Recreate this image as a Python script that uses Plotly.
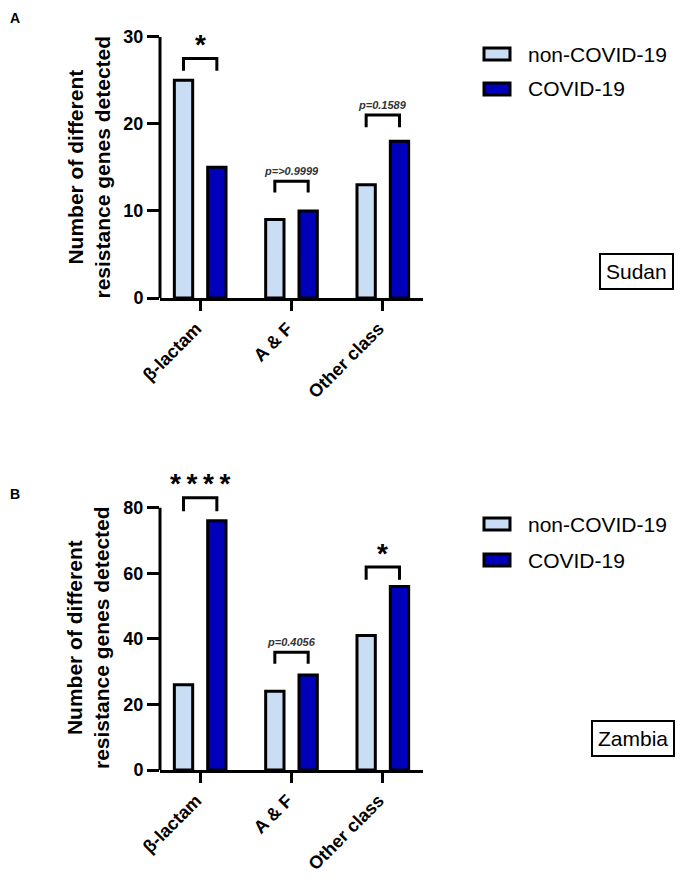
import plotly.graph_objects as go

# ---------------- data ----------------
categories = ["β-lactam", "A & F", "Other class"]
series_names = ["non-COVID-19", "COVID-19"]

sudan_non = [25, 9, 13]
sudan_covid = [15, 10, 18]
zambia_non = [26, 24, 41]
zambia_covid = [76, 29, 56]

sudan_sig = ["*", "p=>0.9999", "p=0.1589"]
sudan_bracket_base = [26.1, 12.1, 19.6]
sudan_bracket_top = [27.5, 13.4, 21.0]

zambia_sig = ["****", "p=0.4056", "*"]
zambia_bracket_base = [78.9, 32.4, 58.0]
zambia_bracket_top = [83.0, 35.9, 61.9]

sudan_yticks = [0, 10, 20, 30]
zambia_yticks = [0, 20, 40, 60, 80]

# ---------------- style ----------------
PAGE_W, PAGE_H = 685, 882
OFF = 8  # default body margin of the html page
W, H = PAGE_W - 2 * OFF, PAGE_H - 2 * OFF
FONT = "Liberation Sans, Arial, Helvetica, sans-serif"
LIGHT = "#C9DDF5"
DARK = "#0000BB"
colors = [LIGHT, DARK]
BARGAP = 0.27
BARGROUPGAP = 0.45
half_slot = (1 - BARGAP) / 4  # offset of bar centre from category centre


def fx(p):
    return (p - OFF) / W


def fy(p):
    return 1 - (p - OFF) / H


panels = [
    dict(name="A", country="Sudan", xa="x", ya="y", values=[sudan_non, sudan_covid],
         yticks=sudan_yticks, yrange=[0, 30], ypx=(298, 36.7),
         sig=sudan_sig, base=sudan_bracket_base, top=sudan_bracket_top,
         label_px=(15, 18), title_cy=167.5, legend_px=(54, 89),
         box=(636.5, 271.5)),
    dict(name="B", country="Zambia", xa="x2", ya="y2", values=[zambia_non, zambia_covid],
         yticks=zambia_yticks, yrange=[0, 92], ypx=(770, 770 - 92 * (262.3 / 80)),
         sig=zambia_sig, base=zambia_bracket_base, top=zambia_bracket_top,
         label_px=(15, 494), title_cy=638, legend_px=(524, 560),
         box=(633, 738.5)),
]

fig = go.Figure()
shapes = []
annotations = []
layout_axes = {}

for p in panels:
    xa, ya = p["xa"], p["ya"]
    xkey = "xaxis" + xa[1:]
    ykey = "yaxis" + ya[1:]
    for i, name in enumerate(series_names):
        fig.add_trace(go.Bar(
            x=categories, y=p["values"][i], name=name, xaxis=xa, yaxis=ya,
            marker=dict(color=colors[i], line=dict(color="black", width=3)),
            showlegend=False, hoverinfo="x+y+name",
        ))
    layout_axes[xkey] = dict(
        domain=[fx(160), fx(423)], anchor=ya, type="category",
        range=[-0.44, 2.44], showline=True, linecolor="black", linewidth=3,
        ticks="outside", ticklen=10, tickwidth=3, tickcolor="black",
        tickangle=-45, showgrid=False, zeroline=False, automargin=False,
        ticklabelstandoff=0, ticklabelshift=-4,
        tickfont=dict(family=FONT, size=18, color="black", weight="bold"),
        fixedrange=True,
    )
    layout_axes[ykey] = dict(
        domain=[fy(p["ypx"][0]), fy(p["ypx"][1])], anchor=xa,
        range=p["yrange"], tickvals=p["yticks"], showline=False,
        ticks="outside", ticklen=12, tickwidth=3, tickcolor="black",
        showgrid=False, zeroline=False, automargin=False,
        tickfont=dict(family=FONT, size=18, color="black", weight="bold"),
        fixedrange=True,
    )
    # y axis line up to last tick
    shapes.append(dict(type="line", xref=xa + " domain", yref=ya, x0=0, x1=0,
                       y0=0, y1=max(p["yticks"]),
                       line=dict(color="black", width=3)))
    # significance brackets
    for ci in range(len(categories)):
        x0, x1 = ci - half_slot, ci + half_slot
        b, t = p["base"][ci], p["top"][ci]
        shapes.append(dict(type="path", xref=xa, yref=ya,
                           path=f"M {x0},{b} L {x0},{t} L {x1},{t} L {x1},{b}",
                           line=dict(color="black", width=3)))
        lab = p["sig"][ci]
        if lab.startswith("p"):
            annotations.append(dict(x=ci, y=t, xref=xa, yref=ya, text=lab,
                                    showarrow=False, xanchor="center", yanchor="middle",
                                    yshift=10,
                                    font=dict(family=FONT, size=11, color="#333333",
                                              weight="bold", style="italic")))
        else:
            annotations.append(dict(x=ci, y=t, xref=xa, yref=ya,
                                    text="\u2009".join(lab),
                                    showarrow=False, xanchor="center", yanchor="middle",
                                    yshift=14,
                                    font=dict(family=FONT, size=28, color="black",
                                              weight="bold")))
    # y axis title
    annotations.append(dict(x=fx(88), y=fy(p["title_cy"]), xref="paper", yref="paper",
                            text="Number of different<br>resistance genes detected",
                            textangle=-90, showarrow=False,
                            xanchor="center", yanchor="middle",
                            font=dict(family=FONT, size=21, color="black", weight="bold")))
    # panel label
    annotations.append(dict(x=fx(p["label_px"][0]), y=fy(p["label_px"][1]),
                            xref="paper", yref="paper", text=p["name"], showarrow=False,
                            xanchor="center", yanchor="middle",
                            font=dict(family=FONT, size=14, color="black", weight="bold")))
    # manual legend
    for i, name in enumerate(series_names):
        cy = p["legend_px"][i]
        shapes.append(dict(type="rect", xref="paper", yref="paper",
                           x0=fx(484), x1=fx(510), y0=fy(cy - 6), y1=fy(cy + 6),
                           fillcolor=colors[i], line=dict(color="black", width=3)))
        annotations.append(dict(x=fx(526), y=fy(cy), xref="paper", yref="paper",
                                text=name, showarrow=False, xanchor="left",
                                yanchor="middle",
                                font=dict(family=FONT, size=21, color="black")))
    # country box
    annotations.append(dict(x=fx(p["box"][0]), y=fy(p["box"][1]), xref="paper",
                            yref="paper", text=p["country"], showarrow=False,
                            xanchor="center", yanchor="middle",
                            bordercolor="black", borderwidth=2, borderpad=5,
                            bgcolor="white",
                            font=dict(family=FONT, size=21, color="black")))

fig.update_layout(
    width=W, height=H, margin=dict(l=0, r=0, t=0, b=0, autoexpand=False),
    paper_bgcolor="white", plot_bgcolor="white",
    barmode="group", bargap=BARGAP, bargroupgap=BARGROUPGAP,
    shapes=shapes, annotations=annotations, showlegend=False,
    font=dict(family=FONT, color="black"),
    **layout_axes,
)

fig.write_html("out.html")
